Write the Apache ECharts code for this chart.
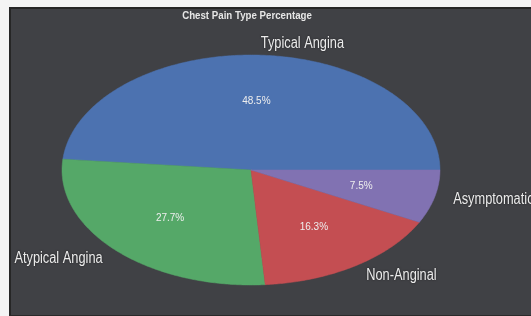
<!DOCTYPE html>
<html>
<head>
<meta charset="utf-8">
<script src="https://cdn.jsdelivr.net/npm/echarts@6/dist/echarts.min.js"></script>
<style>
  html, body { margin: 0; padding: 0; background: #f4f4f4; }
  #panel { position: absolute; left: 9px; top: 7px; width: 531px; height: 306px; background: #404145; border-top: 2px solid #262626; border-left: 2px solid #262626; border-bottom: 2px solid #2a2a2a; }
  #chart { position: absolute; left: 0; top: 0; width: 531px; height: 316px; }
</style>
</head>
<body>
<div id="panel"></div>
<div id="chart"></div>
<script>
const categories = ['Typical Angina', 'Atypical Angina', 'Non-Anginal', 'Asymptomatic'];
const percentages = [48.5, 27.7, 16.3, 7.5];
const sliceColors = ['#4C72B0', '#55A868', '#C44E52', '#8172B2'];
const chartTitle = 'Chest Pain Type Percentage';

const total = percentages.reduce((a, b) => a + b, 0);
const starts = [];
let acc = 0;
for (const v of percentages) { starts.push(acc); acc += v; }

const CX = 251, CY = 170, RX = 189, RY = 115;
const LABEL_FONT = '16px "Liberation Sans", Arial, sans-serif';
const PCT_FONT = '10px "Liberation Sans", Arial, sans-serif';
const NARROW = 0.8;

const chart = echarts.init(document.getElementById('chart'), null, { renderer: 'canvas' });
chart.setOption({
  backgroundColor: 'transparent',
  animation: false,
  graphic: [{
    type: 'text', x: 247, y: 16, scaleX: 0.97,
    style: { text: chartTitle, x: 0, y: 0, align: 'center', verticalAlign: 'middle', fill: '#e6e6e6', font: 'bold 10px "Liberation Sans", Arial, sans-serif' }
  }],
  series: [{
    type: 'custom',
    coordinateSystem: 'none',
    data: percentages.map((v, i) => [v, i]),
    renderItem: function (params, api) {
      const i = params.dataIndex;
      const v = api.value(0);
      const a0 = starts[i] / total * 2 * Math.PI;
      const a1 = (starts[i] + v) / total * 2 * Math.PI;
      const pts = [[CX, CY]];
      const n = Math.max(8, Math.ceil((a1 - a0) / 0.01));
      for (let k = 0; k <= n; k++) {
        const t = a0 + (a1 - a0) * k / n;
        pts.push([CX + RX * Math.cos(t), CY - RY * Math.sin(t)]);
      }
      const mid = (a0 + a1) / 2;
      const lx = CX + 1.1 * RX * Math.cos(mid);
      const ly = CY - 1.1 * RY * Math.sin(mid);
      const px = CX + 0.6 * RX * Math.cos(mid);
      const py = CY - 0.6 * RY * Math.sin(mid);
      return {
        type: 'group',
        children: [
          { type: 'polygon', shape: { points: pts }, style: { fill: sliceColors[i], stroke: sliceColors[i], lineWidth: 0.5 } },
          { type: 'text', z2: 10, x: px, y: py, style: { text: v.toFixed(1) + '%', x: 0, y: 0, align: 'center', verticalAlign: 'middle', fill: '#eeeeee', font: PCT_FONT } },
          { type: 'text', z2: 10, x: lx, y: ly, scaleX: NARROW, style: { text: categories[i], x: 0, y: 0, align: Math.cos(mid) >= 0 ? 'left' : 'right', verticalAlign: 'middle', fill: '#ececec', font: LABEL_FONT, textShadowColor: 'rgba(0,0,0,0.6)', textShadowBlur: 2 } }
        ]
      };
    }
  }]
});
</script>
</body>
</html>
